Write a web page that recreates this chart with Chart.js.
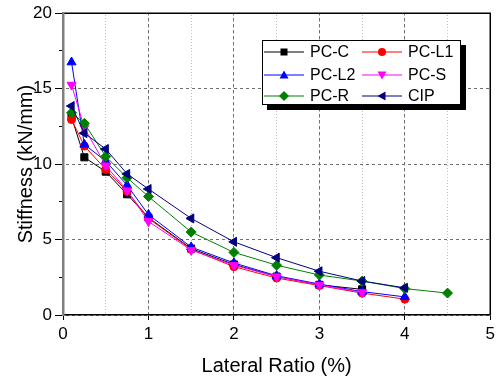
<!DOCTYPE html>
<html>
<head>
<meta charset="utf-8">
<script src="https://cdn.jsdelivr.net/npm/chart.js@4.4.1/dist/chart.umd.min.js"></script>
<style>
  body { margin: 0; background: #fff; }
  #wrap { position: relative; width: 499px; height: 383px; }
  #legend {
    position: absolute; left: 262px; top: 40px; width: 197px; height: 63px;
    border: 1px solid #000; background: #fff; box-shadow: 5px 5px 0 #000;
    font-family: "Liberation Sans", Arial, sans-serif; font-size: 16px; color: #000;
  }
  .item { position: absolute; display: flex; align-items: center; height: 20px; white-space: nowrap; }
  .item svg { margin-right: 6px; }
</style>
</head>
<body>
<div id="wrap">
  <canvas id="chart" width="499" height="383"></canvas>
  <div id="legend"></div>
</div>
<script>
// lateral ratio (%) at each test step
const ratioPts = [0.1, 0.25, 0.5, 0.75, 1, 1.5, 2, 2.5, 3, 3.5, 4];
const ratioPtsR = [0.1, 0.25, 0.5, 0.75, 1, 1.5, 2, 2.5, 3, 3.5, 4, 4.5];

// stiffness (kN/mm)
const pcC  = [13.1, 10.45, 9.5, 8.0, 6.45, 4.4, 3.35, 2.55, 2.0, 1.7];
const pcL1 = [12.95, 11.2, 9.65, 8.2, 6.4, 4.35, 3.2, 2.45, 1.95, 1.45, 1.05];
const pcL2 = [16.75, 11.3, 10.2, 8.6, 6.65, 4.5, 3.45, 2.6, 2.05, 1.55, 1.2];
const pcS  = [15.25, 12.4, 9.9, 8.25, 6.2, 4.3, 3.3, 2.55, 2.0, 1.5];
const pcR  = [13.4, 12.7, 10.5, 9.1, 7.85, 5.5, 4.15, 3.3, 2.65, 2.25, 1.75, 1.45];
const cip  = [13.85, 12.05, 11.0, 9.35, 8.35, 6.4, 4.85, 3.8, 2.9, 2.25, 1.8];

const seriesNames = ["PC-C", "PC-L1", "PC-L2", "PC-S", "PC-R", "CIP"];
const seriesValues = [pcC, pcL1, pcL2, pcS, pcR, cip];
const seriesX = [ratioPts, ratioPts, ratioPts, ratioPts, ratioPtsR, ratioPts];
const seriesColors = ["#000000", "#ff0000", "#0000ff", "#ff00ff", "#008000", "#000080"];
const seriesMarkers = ["rect", "circle", "triangle", "triangle", "rectRot", "triangle"];
const markerRotation = [0, 0, 0, 180, 0, -90];
const markerRadius = [5, 4, 5.2, 5.2, 5, 5.2];

const FONT = "'Liberation Sans', Arial, sans-serif";

// dashed look for grid lines, done with a repeating pattern instead of setLineDash
function stripe(color, on, off, vertical) {
  const c = document.createElement("canvas");
  c.width = vertical ? 1 : on + off;
  c.height = vertical ? on + off : 1;
  const g = c.getContext("2d");
  g.fillStyle = color;
  if (vertical) g.fillRect(0, 0, 1, on);
  else g.fillRect(0, 0, on, 1);
  return g.createPattern(c, "repeat");
}
const majorV = stripe("#6e6e6e", 3, 3, true);
const majorH = stripe("#6e6e6e", 3, 3, false);
const minorV = stripe("#bdbdbd", 1, 2, true);

// top + right border of the plot box
const frame = {
  id: "frame",
  beforeDatasetsDraw(chart) {
    const { ctx, chartArea: a } = chart;
    ctx.save();
    ctx.strokeStyle = "#000";
    ctx.lineWidth = 1.5;
    ctx.beginPath();
    ctx.moveTo(a.left, a.top);
    ctx.lineTo(a.right, a.top);
    ctx.lineTo(a.right, a.bottom);
    ctx.stroke();
    ctx.restore();
  }
};

const datasets = seriesNames.map((name, i) => ({
  label: name,
  data: seriesValues[i].map((v, j) => ({ x: seriesX[i][j], y: v })),
  borderColor: seriesColors[i],
  backgroundColor: seriesColors[i],
  borderWidth: 1,
  pointStyle: seriesMarkers[i],
  pointRotation: markerRotation[i],
  pointRadius: markerRadius[i],
  pointBorderWidth: 1,
  tension: 0,
  order: seriesNames.length - i
}));

new Chart(document.getElementById("chart"), {
  type: "line",
  data: { datasets },
  options: {
    responsive: false,
    animation: false,
    layout: { padding: { top: 11, right: 5, left: 0, bottom: 0 } },
    plugins: { legend: { display: false }, tooltip: { enabled: false } },
    scales: {
      x: {
        type: "linear", position: "bottom", min: 0, max: 5, weight: 1,
        ticks: {
          stepSize: 1, maxRotation: 0, padding: 4,
          color: "#000", font: { family: FONT, size: 17 }
        },
        grid: { color: majorV, lineWidth: 1, tickColor: "#000", tickLength: 5 },
        border: { color: "#000", width: 1.5, z: 1 },
        title: {
          display: true, text: "Lateral Ratio (%)", color: "#000",
          font: { family: FONT, size: 20 }, padding: { top: 0, bottom: 5 }
        },
        afterFit: s => { s.height = 68; }
      },
      // minor vertical grid every 0.5
      xMinor: {
        type: "linear", position: "bottom", min: 0, max: 5, weight: 0,
        ticks: { display: false, stepSize: 0.5 },
        grid: { color: minorV, lineWidth: 1, drawTicks: false, z: -2 },
        border: { display: false },
        afterFit: s => { s.height = 0; }
      },
      y: {
        type: "linear", position: "left", min: 0, max: 20, weight: 1,
        ticks: { stepSize: 5, padding: 3, color: "#000", font: { family: FONT, size: 17 } },
        grid: { color: majorH, lineWidth: 1, tickColor: "#000", tickLength: 8 },
        border: { color: "#808080", width: 2.5, z: 1 },
        title: {
          display: true, text: "Stiffness (kN/mm)", color: "#000",
          font: { family: FONT, size: 20 }, padding: { top: 14, bottom: 0 }
        },
        afterFit: s => { s.width = 63; }
      },
      // minor tick marks every 2.5
      yMinor: {
        type: "linear", position: "left", min: 0, max: 20, weight: 0,
        ticks: { display: false, stepSize: 2.5 },
        grid: { drawOnChartArea: false, tickColor: "#000", tickLength: 4 },
        border: { display: false },
        afterFit: s => { s.width = 0; }
      }
    }
  },
  plugins: [frame]
});

// legend box, two columns
function markerSvg(i) {
  const c = seriesColors[i];
  let m = "";
  if (i === 0) m = `<rect x="16.5" y="3.5" width="7" height="7" fill="${c}"/>`;
  else if (i === 1) m = `<circle cx="20" cy="7" r="4" fill="${c}"/>`;
  else if (i === 2) m = `<polygon points="20,2.5 24.5,10.5 15.5,10.5" fill="${c}"/>`;
  else if (i === 3) m = `<polygon points="20,11.5 24.5,3.5 15.5,3.5" fill="${c}"/>`;
  else if (i === 4) m = `<polygon points="20,2 25,7 20,12 15,7" fill="${c}"/>`;
  else m = `<polygon points="15.5,7 23.5,2.5 23.5,11.5" fill="${c}"/>`;
  return `<svg width="40" height="14"><line x1="0" y1="7" x2="40" y2="7" stroke="${c}" stroke-width="1"/>${m}</svg>`;
}

const legend = document.getElementById("legend");
const rowTops = [1, 24, 45];
const colLefts = [1, 99];
seriesNames.forEach((name, i) => {
  const el = document.createElement("div");
  el.className = "item";
  el.style.top = rowTops[Math.floor(i / 2)] + "px";
  el.style.left = colLefts[i % 2] + "px";
  el.innerHTML = markerSvg(i) + "<span>" + name + "</span>";
  legend.appendChild(el);
});
</script>
</body>
</html>
